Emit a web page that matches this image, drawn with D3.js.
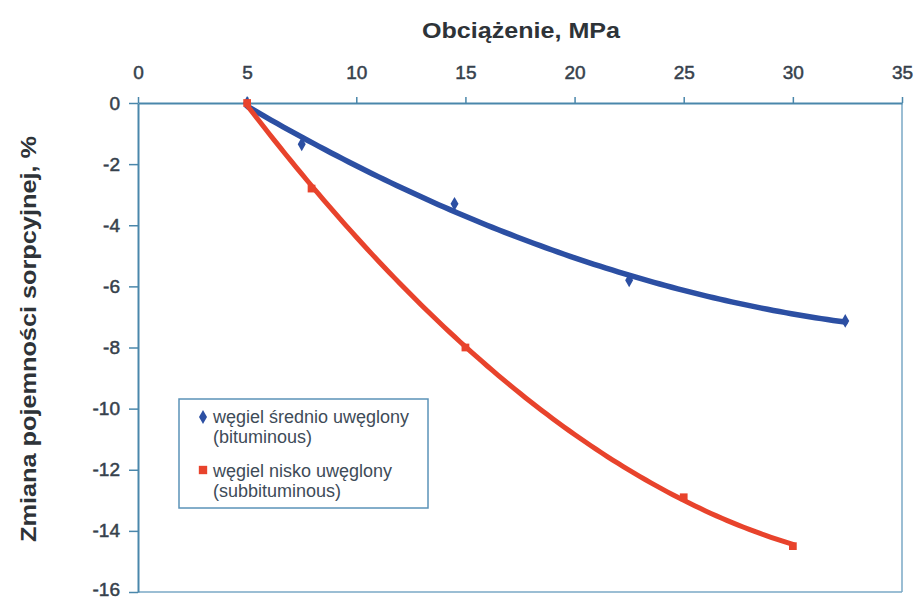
<!DOCTYPE html>
<html>
<head>
<meta charset="utf-8">
<script src="https://cdn.jsdelivr.net/npm/d3@7"></script>
<style>
  html, body { margin: 0; padding: 0; background: #fff; }
  svg { display: block; }
</style>
</head>
<body>
<svg id="chart" width="916" height="599"></svg>
<script>
// ---- data ----
const xTicks = [0, 5, 10, 15, 20, 25, 30, 35];
const yTicks = [0, -2, -4, -6, -8, -10, -12, -14, -16];
const seriesNames = ["węgiel średnio uwęglony", "węgiel nisko uwęglony"];
const seriesSub = ["(bituminous)", "(subbituminous)"];
const pressureBit = [5, 7.5, 14.5, 22.5, 32.4];
const changeBit = [0, -1.35, -3.3, -5.8, -7.13];
const pressureSub = [5, 7.95, 15, 25, 30];
const changeSub = [0, -2.8, -8.0, -12.9, -14.5];
const xTitle = "Obciążenie, MPa";
const yTitle = "Zmiana pojemności sorpcyjnej, %";

const axisColor = "#4a87ab";
const blue = "#2c4fa3";
const red = "#e8432c";
const font = "Liberation Sans, Arial, sans-serif";

const svg = d3.select("#chart");
svg.append("rect").attr("width", 916).attr("height", 599).attr("fill", "#fff");

const x = d3.scaleLinear().domain([0, 35]).range([138, 902]);
const y = d3.scaleLinear().domain([-16, 0]).range([592, 103]);

// plot frame (right and bottom)
svg.append("line").attr("x1", x(35)).attr("x2", x(35)).attr("y1", y(0)).attr("y2", y(-16))
  .attr("stroke", "#7aa8c6").attr("stroke-width", 1.5);
svg.append("line").attr("x1", x(0)).attr("x2", x(35)).attr("y1", y(-16)).attr("y2", y(-16))
  .attr("stroke", "#7aa8c6").attr("stroke-width", 1.5);

// top axis
const gx = svg.append("g").attr("transform", `translate(0,${y(0)})`)
  .call(d3.axisTop(x).tickValues(xTicks).tickSize(6).tickSizeOuter(0).tickPadding(18));
gx.select(".domain").attr("stroke", axisColor).attr("stroke-width", 2);
gx.selectAll(".tick line").attr("stroke", axisColor).attr("stroke-width", 1.5);
gx.selectAll(".tick text").attr("font-family", font)
  .attr("font-size", 19).attr("fill", "#36414c").attr("stroke", "#36414c").attr("stroke-width", 0.5);

// left axis
const gy = svg.append("g").attr("transform", `translate(${x(0)},0)`)
  .call(d3.axisLeft(y).tickValues(yTicks).tickSize(9).tickSizeOuter(0).tickPadding(9)
    .tickFormat(d => d === 0 ? "0" : "-" + Math.abs(d)));
gy.select(".domain").attr("stroke", axisColor).attr("stroke-width", 2);
gy.selectAll(".tick line").attr("stroke", axisColor).attr("stroke-width", 1.5);
gy.selectAll(".tick text").attr("font-family", font)
  .attr("font-size", 19).attr("fill", "#36414c").attr("stroke", "#36414c").attr("stroke-width", 0.5)
  .attr("dy", d => d === -16 ? "0.2em" : "0.32em");

// titles
svg.append("text").attr("x", 521).attr("y", 38).attr("text-anchor", "middle")
  .attr("font-family", font).attr("font-weight", "bold")
  .attr("font-size", 22).attr("fill", "#2e3338")
  .attr("textLength", 198).attr("lengthAdjust", "spacingAndGlyphs").text(xTitle);
svg.append("text").attr("transform", "translate(36,339) rotate(-90)").attr("text-anchor", "middle")
  .attr("font-family", font).attr("font-weight", "bold")
  .attr("font-size", 22).attr("fill", "#2e3338")
  .attr("textLength", 406).attr("lengthAdjust", "spacingAndGlyphs").text(yTitle);

// quadratic least-squares trendline from data
function quadFit(xs, ys) {
  let s = [0, 0, 0, 0, 0], t = [0, 0, 0];
  xs.forEach((xv, i) => {
    for (let k = 0; k < 5; k++) s[k] += Math.pow(xv, k);
    for (let k = 0; k < 3; k++) t[k] += ys[i] * Math.pow(xv, k);
  });
  const A = [[s[0], s[1], s[2], t[0]], [s[1], s[2], s[3], t[1]], [s[2], s[3], s[4], t[2]]];
  for (let i = 0; i < 3; i++) {
    for (let j = i + 1; j < 3; j++) {
      const f = A[j][i] / A[i][i];
      for (let k = i; k < 4; k++) A[j][k] -= f * A[i][k];
    }
  }
  const c = [0, 0, 0];
  for (let i = 2; i >= 0; i--) {
    let v = A[i][3];
    for (let k = i + 1; k < 3; k++) v -= A[i][k] * c[k];
    c[i] = v / A[i][i];
  }
  return xv => c[0] + c[1] * xv + c[2] * xv * xv;
}

function drawSeries(xs, ys, color, width, marker) {
  const f = quadFit(xs, ys);
  const lo = d3.min(xs), hi = d3.max(xs);
  const pts = d3.range(0, 101).map(i => { const xv = lo + (hi - lo) * i / 100; return [xv, f(xv)]; });
  svg.append("path").attr("d", d3.line().x(d => x(d[0])).y(d => y(d[1]))(pts))
    .attr("fill", "none").attr("stroke", color).attr("stroke-width", width)
    .attr("stroke-linecap", "round");
  svg.append("g").selectAll("path").data(xs.map((xv, i) => [xv, ys[i]])).join("path")
    .attr("transform", d => `translate(${x(d[0])},${y(d[1])})`)
    .attr("d", d3.symbol().type(marker === "diamond" ? d3.symbolDiamond : d3.symbolSquare).size(marker === "diamond" ? 55 : 60))
    .attr("fill", color);
}
drawSeries(pressureBit, changeBit, blue, 5.5, "diamond");
drawSeries(pressureSub, changeSub, red, 5, "square");

// legend
const lg = svg.append("g");
lg.append("rect").attr("x", 179).attr("y", 399).attr("width", 249).attr("height", 109)
  .attr("fill", "#fff").attr("stroke", "#5b93b8").attr("stroke-width", 1.5);
[[blue, "diamond", 417, 423, 443], [red, "square", 470, 477, 497]].forEach((e, i) => {
  lg.append("path").attr("transform", `translate(203,${e[2]})`)
    .attr("d", d3.symbol().type(e[1] === "diamond" ? d3.symbolDiamond : d3.symbolSquare).size(e[1] === "diamond" ? 55 : 70))
    .attr("fill", e[0]);
  lg.append("text").attr("x", 213).attr("y", e[3]).attr("font-family", font)
    .attr("font-size", 18).attr("fill", "#3e4b58").text(seriesNames[i]);
  lg.append("text").attr("x", 213).attr("y", e[4]).attr("font-family", font)
    .attr("font-size", 18).attr("fill", "#3e4b58").text(seriesSub[i]);
});
</script>
</body>
</html>
